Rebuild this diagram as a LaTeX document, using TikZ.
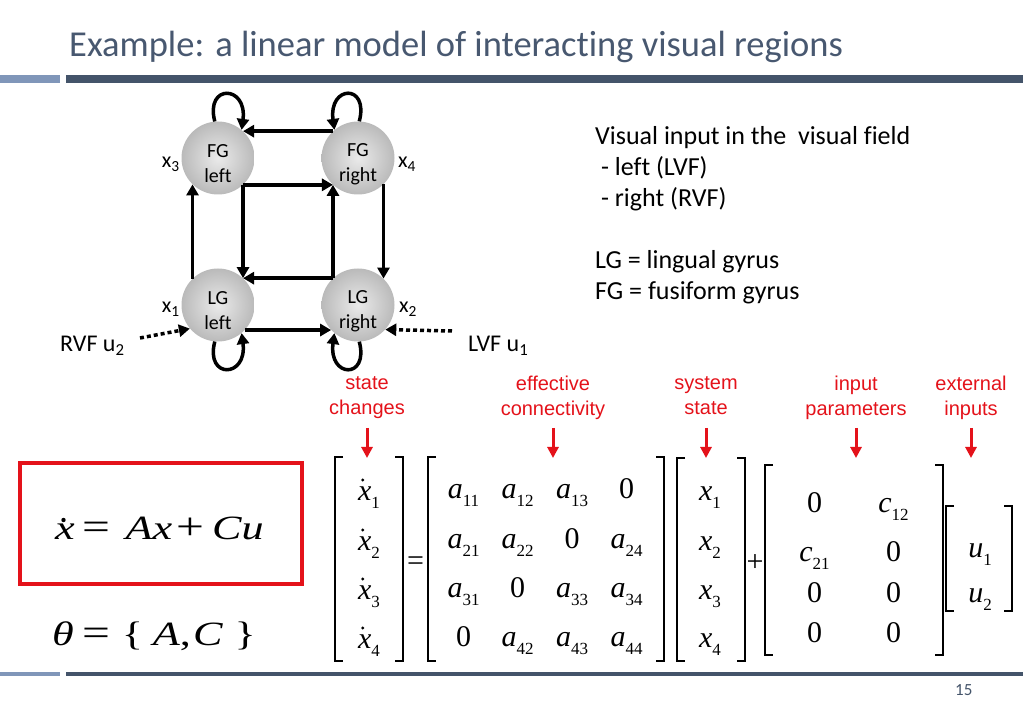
\documentclass[tikz,border=0pt]{standalone}
\usepackage{fontspec}
\setmainfont{Carlito}[Ligatures=CommonOff]
\newfontfamily\arialfont{Liberation Sans}
\newfontfamily\timesfont{Liberation Serif}
\newfontfamily\eqfont{Liberation Serif}[FakeStretch=1.3]
\usetikzlibrary{arrows.meta}
\definecolor{slate}{RGB}{68,84,106}
\definecolor{slatelight}{RGB}{128,150,185}
\definecolor{titleblue}{RGB}{72,88,112}
\definecolor{alert}{RGB}{228,18,26}
\definecolor{ballin}{RGB}{234,234,234}
\definecolor{ballout}{RGB}{186,186,186}
\def\openbr(#1:#2:#3){\draw[brak] (#1+8,#2) -- (#1,#2) -- (#1,#3) -- (#1+8,#3);}
\def\closebr(#1:#2:#3){\draw[brak] (#1-8,#2) -- (#1,#2) -- (#1,#3) -- (#1-8,#3);}
\def\timedot(#1){\fill ([xshift=-6.3pt, yshift=20pt]#1.base) circle (1.7pt);}
\newcommand\subidx[1]{\raisebox{-8.5pt}{\upshape\fontsize{17}{17}\selectfont #1}}
\newcommand\bigop[1]{{\upshape\fontsize{38}{38}\selectfont #1}}
\tikzset{
	region/.style={circle, minimum size=73pt, inner sep=0pt, shading=radial, inner color=ballin, outer color=ballout, align=center, font=\fontsize{20}{25}\selectfont},
	link/.style={line width=3.5pt, -{Triangle[length=11pt,width=12pt]}},
	input/.style={line width=3.5pt, dash pattern=on 4pt off 3pt, -{Triangle[length=11pt,width=12pt]}},
	brak/.style={line width=1.3pt},
	entry/.style={font=\timesfont\fontsize{30}{30}\selectfont, inner sep=0pt, anchor=base},
	redlbl/.style={text=alert, font=\arialfont\fontsize{20}{25}\selectfont, align=center, inner sep=0pt, anchor=north},
	redarr/.style={alert, line width=3pt, -{Triangle[length=11pt,width=11pt]}}
}
\begin{document}
\begin{tikzpicture}[x=1pt, y=-1pt]
			%%%%% START %%%%%
			\useasboundingbox (0,0) rectangle (1023,708);
			
			\node[anchor=base west, inner sep=0pt, text=titleblue, font=\fontsize{36.5}{36.5}\selectfont] (title) at (69,57) {Example: a linear model of interacting visual regions};
			\fill[slatelight] (0,75) rectangle (60,83);
			\fill[slate] (66,75) rectangle (1023,83);
			
			\node[region] (fgl) at (218,158) {\rule{0pt}{25pt}FG\\left};
			\node[region] (fgr) at (358,158) {\rule{0pt}{25pt}FG\\right};
			\node[region] (lgl) at (218,305) {\rule{0pt}{25pt}LG\\left};
			\node[region] (lgr) at (358,305) {\rule{0pt}{25pt}LG\\right};
			
			\node[anchor=base east, inner sep=0pt, font=\fontsize{22}{22}\selectfont] (lblx3) at (180,168) {x\textsubscript{3}};
			\node[anchor=base west, inner sep=0pt, font=\fontsize{22}{22}\selectfont] (lblx4) at (398,168) {x\textsubscript{4}};
			\node[anchor=base east, inner sep=0pt, font=\fontsize{22}{22}\selectfont] (lblx1) at (180,313) {x\textsubscript{1}};
			\node[anchor=base west, inner sep=0pt, font=\fontsize{22}{22}\selectfont] (lblx2) at (399,313) {x\textsubscript{2}};
			
			\draw[link] (fgr.133) -- (fgl.47);
			\draw[link] (fgl.-47) -- (fgr.-133);
			\draw[link] (fgl.-47) -- (lgl.47);
			\draw[link] (lgr.133) -- (lgl.47);
			\draw[link] (lgr.133) -- (fgr.-133);
			\draw[link] (lgl.134) -- (fgl.-134);
			\draw[link] (fgr.-46) -- (lgr.46);
			\draw[link] (lgl.-43) -- (lgr.-137);
			
			\draw[link] (fgl.95) .. controls +(-10,-38) and +(6,-45) .. (fgl.50);
			\draw[link] (fgr.88) .. controls +(10,-38) and +(-6,-45) .. (fgr.130);
			\draw[link] (lgl.-95) .. controls +(-10,38) and +(6,45) .. (lgl.-50);
			\draw[link] (lgr.-88) .. controls +(10,38) and +(-6,45) .. (lgr.-130);
			
			\node[anchor=base west, inner sep=0pt, font=\fontsize{24}{24}\selectfont] (rvf) at (60,352) {RVF u\textsubscript{2}};
			\node[anchor=base west, inner sep=0pt, font=\fontsize{24}{24}\selectfont] (lvf) at (468,352) {LVF u\textsubscript{1}};
			\coordinate (rvfend) at (140,338);
			\coordinate (lvfend) at (452,331);
			\draw[input] (rvfend) -- (lgl.-140);
			\draw[input] (lvfend) -- (lgr.-42);
			
			\node[anchor=north west, align=left, inner sep=0pt, font=\fontsize{26}{31}\selectfont] (legend) at (595,126) {Visual input in the\ \ visual field\\\ - left (LVF)\\\ - right (RVF)\\[31pt]LG = lingual gyrus\\FG = fusiform gyrus};
			
			% labels over the matrices
			\node[redlbl] (lstate) at (367,376) {state\\changes};
			\node[redlbl] (lconn) at (553,376) {effective\\connectivity};
			\node[redlbl] (lsys) at (706,376) {system\\state};
			\node[redlbl] (lpar) at (856,376) {input\\parameters};
			\node[redlbl] (lext) at (971,376) {external\\inputs};
			\draw[redarr] (lstate.south |- 0,428) -- (lstate.south |- 0,458);
			\draw[redarr] (lconn.south |- 0,428) -- (lconn.south |- 0,458);
			\draw[redarr] (lsys.south |- 0,428) -- (lsys.south |- 0,458);
			\draw[redarr] (lpar.south |- 0,428) -- (lpar.south |- 0,458);
			\draw[redarr] (lext.south |- 0,428) -- (lext.south |- 0,458);
			
			\draw[alert, line width=4pt] (20,463) rectangle (302,584);
			\node[anchor=base west, inner sep=0pt, font=\eqfont\fontsize{34}{34}\selectfont] (model) at (55,539) {\itshape x\kern8pt\bigop{=}\kern15pt\itshape Ax\kern4pt\bigop{+}\kern8pt\itshape Cu};
			\fill ([xshift=8.5pt, yshift=19pt]model.base west) circle (2.2pt);
			\node[anchor=base west, inner sep=0pt, font=\eqfont\fontsize{34}{34}\selectfont] (params) at (52,645) {\itshape θ\kern9pt\bigop{=}\kern11pt\upshape\{\kern10pt\itshape A\upshape,\kern2pt\itshape C\kern12pt\upshape\}};
			
			% state changes
			\openbr(335:457:661)
			\closebr(403:457:661)
			\node[entry] (dx1) at (369,500) {\itshape x\subidx{1}};
			\node[entry] (dx2) at (369,550) {\itshape x\subidx{2}};
			\node[entry] (dx3) at (369,599) {\itshape x\subidx{3}};
			\node[entry] (dx4) at (369,648) {\itshape x\subidx{4}};
			\timedot(dx1) \timedot(dx2) \timedot(dx3) \timedot(dx4)
			\node[entry] (eqsign) at (415.5,570) {=};
			
			% connectivity
			\openbr(428:457:661)
			\closebr(664:457:661)
			\node[entry] (a11) at (463.5,498) {\itshape a\subidx{11}};
			\node[entry] (a12) at (517.5,498) {\itshape a\subidx{12}};
			\node[entry] (a13) at (572,498) {\itshape a\subidx{13}};
			\node[entry] (a14) at (626.5,498) {0};
			\node[entry] (a21) at (463.5,548) {\itshape a\subidx{21}};
			\node[entry] (a22) at (517.5,548) {\itshape a\subidx{22}};
			\node[entry] (a23) at (572,548) {0};
			\node[entry] (a24) at (626.5,548) {\itshape a\subidx{24}};
			\node[entry] (a31) at (463.5,597) {\itshape a\subidx{31}};
			\node[entry] (a32) at (517.5,597) {0};
			\node[entry] (a33) at (572,597) {\itshape a\subidx{33}};
			\node[entry] (a34) at (626.5,597) {\itshape a\subidx{34}};
			\node[entry] (a41) at (463.5,646) {0};
			\node[entry] (a42) at (517.5,646) {\itshape a\subidx{42}};
			\node[entry] (a43) at (572,646) {\itshape a\subidx{43}};
			\node[entry] (a44) at (626.5,646) {\itshape a\subidx{44}};
			
			% system state
			\openbr(677:458:661)
			\closebr(745:458:661)
			\node[entry] (x1) at (710,500) {\itshape x\subidx{1}};
			\node[entry] (x2) at (710,550) {\itshape x\subidx{2}};
			\node[entry] (x3) at (710,599) {\itshape x\subidx{3}};
			\node[entry] (x4) at (710,647) {\itshape x\subidx{4}};
			\node[entry] (plussign) at (755,571.5) {+};
			
			% input parameters
			\openbr(765:465:655)
			\closebr(943:465:655)
			\node[entry] (c11) at (814.5,512) {0};
			\node[entry] (c12) at (893.5,512) {\itshape c\subidx{12}};
			\node[entry] (c21) at (814.5,561) {\itshape c\subidx{21}};
			\node[entry] (c22) at (893.5,561) {0};
			\node[entry] (c31) at (814.5,602) {0};
			\node[entry] (c32) at (893.5,602) {0};
			\node[entry] (c41) at (814.5,642) {0};
			\node[entry] (c42) at (893.5,642) {0};
			
			% external inputs
			\openbr(946:506:611)
			\closebr(1012:506:611)
			\node[entry] (u1) at (980,557) {\itshape u\subidx{1}};
			\node[entry] (u2) at (980,602) {\itshape u\subidx{2}};
			
			\fill[slatelight] (0,672) rectangle (60,676);
			\fill[slate] (66,672) rectangle (1023,676);
			\node[anchor=base west, inner sep=0pt, text=slate, font=\fontsize{17}{17}\selectfont] (pagenum) at (955,695) {15};
			%%%%% END %%%%%
\end{tikzpicture}
\end{document}
